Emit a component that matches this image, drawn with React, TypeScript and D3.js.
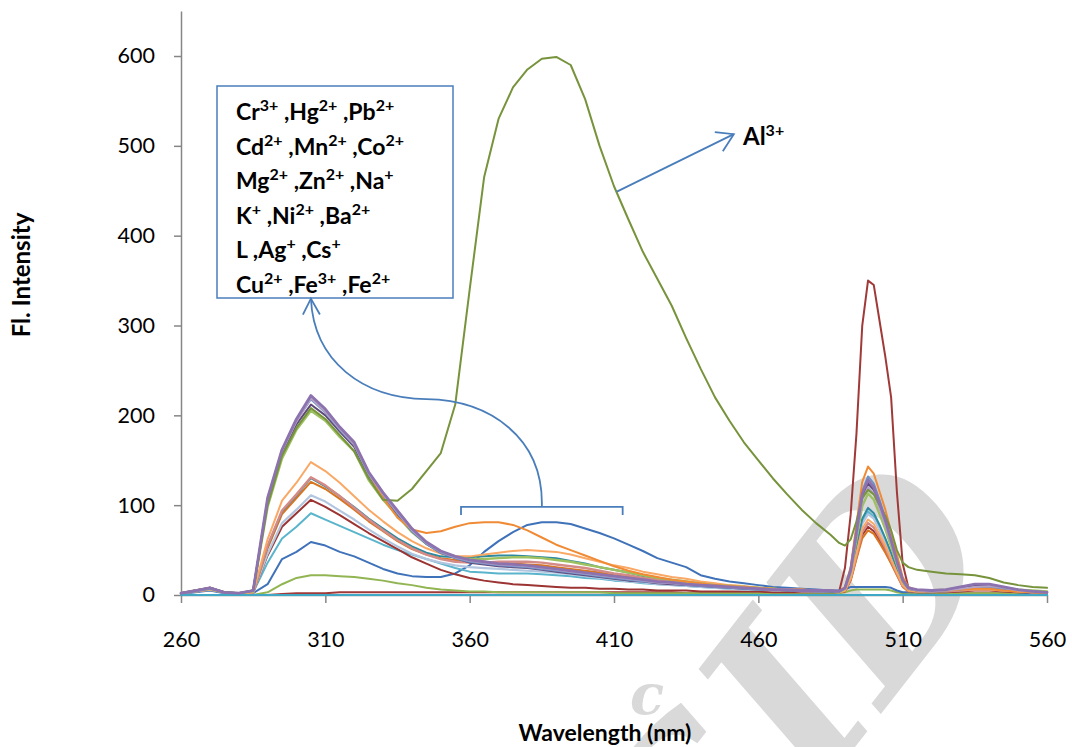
import React, { useEffect, useRef } from "react";
import * as d3 from "d3";

// ---------------- DATA ----------------
const wavelengths = [260,265,270,275,280,285,290,295,300,305,310,315,320,325,330,335,340,345,350,355,360,365,370,375,380,385,390,395,400,405,410,415,420,425,430,435,440,445,450,455,460,465,470,475,480,485,488,490,492,494,496,498,500,502,504,506,508,510,512,515,520,525,530,535,540,545,550,555,560];

const xTicks = [260, 310, 360, 410, 460, 510, 560];
const yTicks = [0, 100, 200, 300, 400, 500, 600];

const cyanFlat = [0,0,0,0,0,0,0,0,0,0, 0,0,0,0,0,0,0,0,0,0, 0,0,0,0,0,0,0,0,0,0, 0,0,0,0,0,0,0,0,0,0, 0,0,0,0,0,0, 0,0,0,0,0,0,0,0,0,0,0,0,0, 0,0,0,0,0,0,0,0,0,0];
const redPeak = [0,0,0,0,0,0,0,1,2,2, 2,3,3,3,3,3,3,3,3,3, 3,3,3,3,3,3,3,3,3,3, 3,3,3,3,3,2,2,2,2,2, 2,2,2,2,2,2, 4,30,90,180,300,350,345,305,265,220,115,35,8, 3,2,2,2,2,2,2,2,2,2];
const greenLow = [0,0,0,0,0,0,3,12,19,22, 22,21,20,18,16,13,11,8,6,5, 4,4,3,3,3,3,3,3,3,3, 2,2,2,2,2,2,2,2,2,2, 2,2,2,2,2,2, 2,3,5,6,6,6,6,6,6,5,3,2,2, 2,2,2,2,2,2,2,2,2,2];
const blueHump = [1,3,5,2,1,2,12,40,48,59, 55,48,43,36,29,24,21,20,20,24, 33,48,60,70,78,81,81,79,74,69, 63,56,49,41,36,31,22,18,15,13, 11,9,8,7,6,5, 5,6,9,9,9,9,9,9,9,8,5,3,3, 3,3,4,8,10,9,6,3,2,2];
const aqua = [2,4,6,3,1,3,36,63,76,91, 84,77,70,63,56,50,45,40,35,30, 26,25,24,24,24,23,22,21,19,18, 16,15,13,12,11,10,9,8,7,6, 6,5,5,4,4,4, 3,6,20,51,82,93,87,74,60,45,28,12,6, 4,4,5,6,7,7,6,4,3,3];
const darkRed = [2,4,6,3,1,3,44,76,91,106, 98,89,79,69,60,51,42,35,28,23, 19,16,14,12,11,10,9,8,8,7, 7,6,6,5,5,5,4,4,4,4, 4,3,3,3,3,3, 3,4,17,42,67,76,71,61,49,36,23,10,5, 3,3,3,4,5,5,4,3,3,2];
const steelLight = [2,4,6,3,1,3,46,80,95,111, 104,94,84,73,63,54,46,40,36,33, 31,30,29,28,27,26,25,23,21,19, 17,15,14,12,11,10,9,8,7,6, 6,5,5,4,4,4, 3,5,20,50,79,90,85,72,59,43,27,12,5, 4,4,5,7,9,9,7,5,4,3];
const darkOrange = [2,4,6,3,1,3,52,90,108,126, 118,107,95,82,71,60,51,45,41,39, 38,37,36,35,34,33,31,29,27,25, 22,20,18,16,14,12,11,10,9,8, 7,6,5,5,5,4, 3,4,16,40,63,72,68,58,47,35,22,9,4, 4,4,4,5,6,6,5,4,3,3];
const teal = [2,4,6,3,1,3,54,93,111,130, 121,110,98,85,74,63,54,47,43,42, 42,43,44,44,43,42,41,38,35,31, 28,25,21,18,16,14,12,11,9,8, 7,6,6,5,5,4, 3,6,21,53,85,97,91,78,63,47,29,13,6, 4,4,4,5,6,6,5,4,3,3];
const rose = [2,4,6,3,1,3,55,94,112,131, 122,110,97,84,72,61,52,45,40,37, 36,36,37,37,37,36,34,32,30,27, 24,22,19,17,15,13,12,10,9,8, 7,6,6,5,5,4, 3,5,18,44,70,80,75,64,52,38,24,10,5, 4,4,4,5,6,6,5,4,3,3];
const orangeLight = [2,4,6,3,1,3,62,105,125,148, 138,125,110,95,82,70,60,52,46,43, 43,45,47,49,50,49,48,45,41,37, 33,30,26,23,20,18,15,13,11,10, 8,7,6,6,5,5, 3,5,19,46,74,84,79,67,55,40,25,11,5, 4,4,5,6,6,6,5,4,3,3];
const greenTop = [2,5,7,3,2,4,98,152,184,205, 194,176,160,128,106,88,70,57,48,43, 40,40,41,42,42,41,39,37,34,31, 28,25,22,19,17,15,13,11,10,9, 8,7,6,5,5,5, 3,7,25,62,99,113,106,90,73,54,34,15,7, 5,5,6,8,10,10,8,6,5,4];
const purpleDark = [2,5,8,3,2,5,104,158,190,212, 200,182,165,133,110,90,71,57,47,41, 36,34,32,31,30,28,26,24,22,20, 18,16,15,13,12,11,10,9,8,7, 6,6,5,5,5,4, 4,7,27,68,109,124,117,99,81,60,37,16,7, 5,4,5,8,11,11,8,5,4,3];
const steelTop = [1,4,7,3,2,5,106,161,194,218, 203,184,167,134,111,91,71,57,47,41, 37,35,33,32,31,29,27,25,23,21, 19,17,15,14,13,11,10,9,8,7, 6,6,5,5,4,4, 4,8,29,73,116,132,124,106,86,63,40,17,8, 5,4,5,6,8,8,6,5,4,3];
const orangeHump = [2,5,8,3,2,5,107,161,195,220, 205,186,168,136,108,86,73,69,71,76, 80,81,81,78,72,64,56,50,44,38, 32,27,23,20,17,15,13,11,10,9, 8,7,6,6,5,5, 4,9,31,79,126,143,135,115,95,70,45,20,9, 5,4,5,6,7,7,5,4,3,3];
const purpleLight = [2,5,8,3,2,5,105,160,193,219, 204,185,168,135,112,92,72,58,48,42, 38,36,34,33,32,30,28,26,24,22, 20,18,16,14,13,12,11,10,9,8, 7,6,6,5,5,5, 4,7,26,66,106,120,113,96,78,58,36,16,7, 5,4,5,7,9,10,8,5,4,3];
const aluminium = [2,5,8,3,2,5,100,155,186,208, 196,178,160,130,106,105,118,138,158,212, 340,465,530,565,585,597,599,590,552,500, 455,418,382,352,322,286,252,220,194,170, 150,130,112,95,80,67, 58,55,62,82,108,117,112,100,88,72,50,36,31, 28,26,24,23,22,19,14,11,9,8];
const purple = [2,5,8,3,2,5,108,162,196,222, 207,187,170,137,114,94,74,59,49,43, 39,37,35,34,33,31,29,27,25,23, 21,19,17,15,14,12,11,10,9,8, 7,6,6,5,5,5, 4,8,28,70,113,128,120,102,83,61,38,17,8, 6,5,6,9,12,12,9,6,4,3];

const seriesNames = ["Cu2+","Cr3+","Fe3+","Fe2+","Hg2+","Pb2+","Cd2+","Mn2+","Co2+","Mg2+","Zn2+","Na+","K+","Ni2+","Ba2+","Ag+","Cs+","Al3+","L"];
const seriesValues = [cyanFlat, redPeak, greenLow, blueHump, aqua, darkRed, steelLight, darkOrange, teal, rose, orangeLight, greenTop, purpleDark, steelTop, orangeHump, purpleLight, cyanFlat, aluminium, purple];
const seriesColors = ["#4BACC6","#A03A38","#92B553","#3F72B8","#5AB4CC","#9B3432","#B3C6E0","#D9751E","#2E8A9E","#D48A87","#F9A865","#9DC060","#5F497A","#6F93C8","#F08A35","#B3A2C7","#40A8C4","#77933C","#8C72AE"];
const seriesWidths = [2,2,2,2,2,2,2.2,2,2,2.4,2,2.4,2,2,2,2,2,2,2.8];

const legendRows = [
  [["Cr","3+"],["Hg","2+"],["Pb","2+"]],
  [["Cd","2+"],["Mn","2+"],["Co","2+"]],
  [["Mg","2+"],["Zn","2+"],["Na","+"]],
  [["K","+"],["Ni","2+"],["Ba","2+"]],
  [["L",""],["Ag","+"],["Cs","+"]],
  [["Cu","2+"],["Fe","3+"],["Fe","2+"]],
];

const FONT = "Lato, 'Open Sans', sans-serif";

export default function App() {
  const xAxisRef = useRef<SVGGElement>(null);
  const yAxisRef = useRef<SVGGElement>(null);

  const x = d3.scaleLinear().domain([260, 560]).range([181, 1047]);
  const y = d3.scaleLinear().domain([0, 650]).range([595, 11.1]);

  useEffect(() => {
    document.body.style.margin = "0";
    const gx = d3.select(xAxisRef.current!);
    gx.call(d3.axisBottom(x).tickValues(xTicks).tickSize(8).tickSizeOuter(0).tickPadding(29).tickFormat(d3.format("d")) as any);
    const gy = d3.select(yAxisRef.current!);
    gy.call(d3.axisLeft(y).tickValues(yTicks).tickSize(7).tickSizeOuter(0).tickPadding(19).tickFormat(d3.format("d")) as any);
    [gx, gy].forEach((g) => {
      g.selectAll("path.domain").attr("stroke", "#868686").attr("stroke-width", 1.5);
      g.selectAll(".tick line").attr("stroke", "#868686").attr("stroke-width", 1.5);
      g.selectAll(".tick text").attr("fill", "#000").style("font-size", "21.5px").style("font-family", FONT);
    });
  }, []);

  const line = d3
    .line<number>()
    .x((_, i) => x(wavelengths[i]))
    .y((d) => y(d))
    .curve(d3.curveLinear);

  // bracket & curved arrow in data coordinates
  const bL = x(357), bR = x(413), bM = x(385), bTop = y(98), bLeg = y(89);
  const bracketPath = `M${bL},${bLeg} L${bL},${bTop} L${bR},${bTop} L${bR},${bLeg}`;
  const curvePath = `M${bM},${bTop} C${bM + 2},${y(175)} ${x(367)},${y(217)} ${x(345)},${y(218)} C${x(323)},${y(219)} ${x(306)},${y(260)} ${x(305)},${y(330)}`;
  const tipX = x(305), tipY = y(330);

  const alFrom = [x(411), y(449)];
  const alTo = [x(451.5), y(513)];

  return (
    <svg width={1072} height={747} style={{ display: "block", background: "#fff" }}>
      {/* watermark */}
      <g fill="#d9d9d9" fontFamily="'DejaVu Serif', serif" fontStyle="italic" fontWeight="bold">
        <text transform="translate(712,930) rotate(-52)" fontSize={235}>SID</text>
        <text x={630} y={714} fontSize={56}>c</text>
      </g>

      <g ref={xAxisRef} transform={`translate(0,${y(0)})`} />
      <g ref={yAxisRef} transform={`translate(${x(260)},0)`} />

      <g fill="none" strokeLinejoin="round" strokeLinecap="round">
        {seriesValues.map((vals, i) => (
          <path key={seriesNames[i] + i} d={line(vals) || ""} stroke={seriesColors[i]} strokeWidth={seriesWidths[i]} />
        ))}
      </g>

      {/* legend box */}
      <rect x={217} y={86} width={236} height={212} fill="#fff" stroke="#4A7EBB" strokeWidth={1.5} />
      <g fontFamily={FONT} fontWeight="bold" fontSize={23} fill="#000">
        {legendRows.map((row, ri) => (
          <text key={ri} x={236} y={120 + ri * 34.5}>
            {row.map((tok, ti) => {
              const prevSup = ti > 0 && row[ti - 1][1] !== "";
              return (
                <React.Fragment key={ti}>
                  {ti > 0 ? <tspan dy={prevSup ? 9 : 0}> ,</tspan> : null}
                  <tspan>{tok[0]}</tspan>
                  {tok[1] ? <tspan dy={-9} fontSize={16}>{tok[1]}</tspan> : null}
                </React.Fragment>
              );
            })}
          </text>
        ))}
      </g>

      {/* bracket + curved arrow */}
      <g fill="none" stroke="#4A7EBB" strokeWidth={1.8}>
        <path d={bracketPath} />
        <path d={curvePath} />
        <path d={`M${tipX - 8},${tipY + 16} L${tipX},${tipY} L${tipX + 9},${tipY + 16}`} />
        <line x1={alFrom[0]} y1={alFrom[1]} x2={alTo[0]} y2={alTo[1]} />
        <path d={`M${alTo[0] - 19},${alTo[1] - 2} L${alTo[0]},${alTo[1]} L${alTo[0] - 11},${alTo[1] + 17}`} />
      </g>

      {/* Al3+ label */}
      <text x={743} y={145} fontFamily={FONT} fontWeight="bold" fontSize={24} fill="#000">
        Al<tspan dy={-9} fontSize={16}>3+</tspan>
      </text>

      {/* axis titles */}
      <text transform="translate(30,275) rotate(-90)" textAnchor="middle" fontFamily={FONT} fontWeight="bold" fontSize={24} fill="#000">Fl. Intensity</text>
      <text x={605} y={741} textAnchor="middle" fontFamily={FONT} fontWeight="bold" fontSize={23} fill="#000">Wavelength (nm)</text>
    </svg>
  );
}
